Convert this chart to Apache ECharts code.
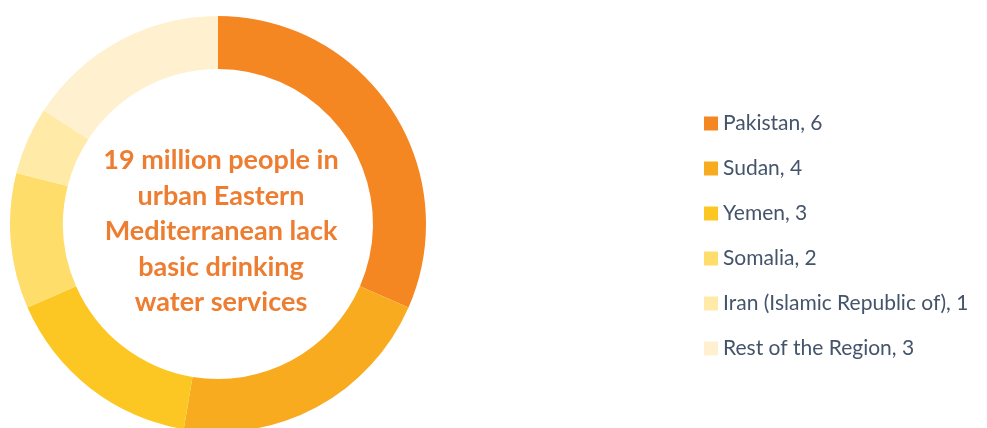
<!DOCTYPE html>
<html>
<head>
<meta charset="utf-8">
<script src="https://cdn.jsdelivr.net/npm/echarts@6/dist/echarts.min.js"></script>
<style>
  html, body { margin: 0; padding: 0; background: #ffffff; }
  #chart { width: 987px; height: 428px; }
</style>
</head>
<body>
<div id="chart"></div>
<script>
// Urban population lacking basic drinking water services, millions
const countries = ['Pakistan', 'Sudan', 'Yemen', 'Somalia', 'Iran (Islamic Republic of)', 'Rest of the Region'];
const millions = [6, 4, 3, 2, 1, 3];
const sliceColors = ['#F58723', '#F9AB1F', '#FCC722', '#FEDD6A', '#FFEAA8', '#FFF1D0'];
const centerLines = ['19 million people in', 'urban Eastern', 'Mediterranean lack', 'basic drinking', 'water services'];

const chart = echarts.init(document.getElementById('chart'));

const pieData = countries.map((name, i) => ({
  name: name,
  value: millions[i],
  itemStyle: { color: sliceColors[i] }
}));

chart.setOption({
  backgroundColor: '#ffffff',
  animation: false,
  legend: {
    orient: 'vertical',
    left: 704,
    top: 113,
    padding: 0,
    itemWidth: 14,
    itemHeight: 14,
    itemGap: 24,
    icon: 'rect',
    textStyle: {
      fontFamily: 'Lato',
      fontSize: 21,
      color: '#44546A',
      lineHeight: 20
    },
    formatter: function (name) {
      const i = countries.indexOf(name);
      return name + ', ' + millions[i];
    },
    data: countries
  },
  graphic: [{
    type: 'text',
    x: 221,
    y: 143,
    style: {
      text: centerLines.join('\n'),
      fill: '#ED7D31',
      font: 'bold 27px Lato',
      lineHeight: 35.5,
      align: 'center',
      textAlign: 'center',
      verticalAlign: 'top'
    }
  }],
  series: [{
    type: 'pie',
    center: [218, 224],
    radius: [155, 208],
    startAngle: 90,
    clockwise: true,
    silent: true,
    label: { show: false },
    labelLine: { show: false },
    itemStyle: { borderWidth: 0 },
    data: pieData
  }]
});
</script>
</body>
</html>
